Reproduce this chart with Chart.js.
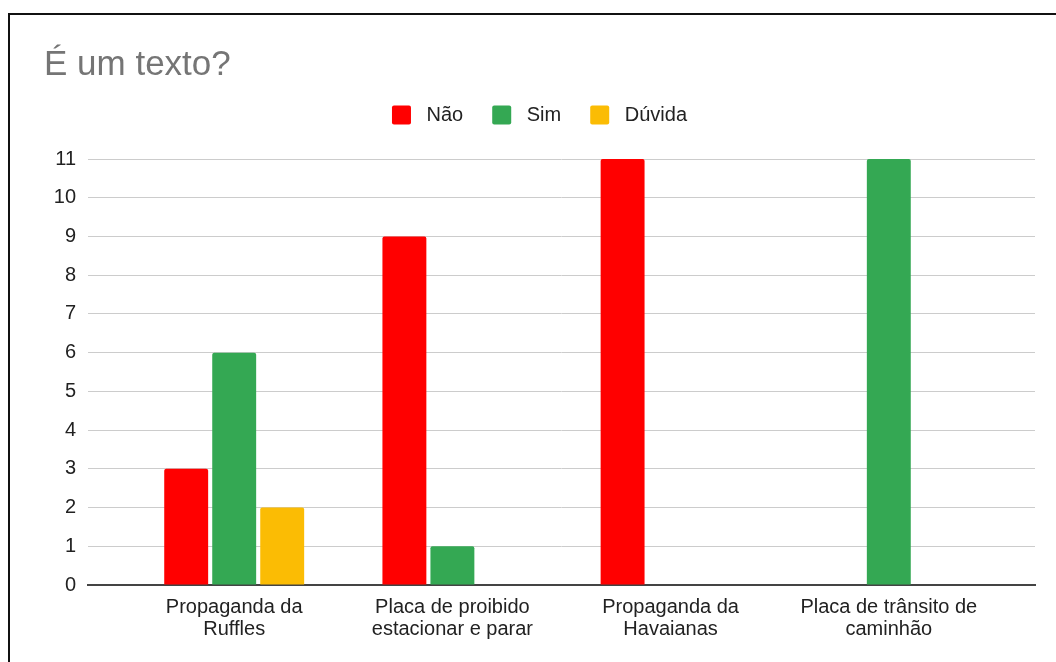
<!DOCTYPE html>
<html>
<head>
<meta charset="utf-8">
<script src="https://cdn.jsdelivr.net/npm/chart.js@4"></script>
<style>
  html, body { margin: 0; padding: 0; background: #fff; overflow: hidden; }
  body { width: 1056px; height: 662px; position: relative; }
  #frame {
    position: absolute; left: 8px; top: 13px;
    width: 1100px; height: 700px;
    border: 2px solid #111;
    box-sizing: border-box;
  }
  #chart { position: absolute; left: 10px; top: 15px; }
</style>
</head>
<body>
<div id="frame"></div>
<canvas id="chart" width="1046" height="647"></canvas>
<script>
var categories = [
  ['Propaganda da', 'Ruffles'],
  ['Placa de proibido', 'estacionar e parar'],
  ['Propaganda da', 'Havaianas'],
  ['Placa de trânsito de', 'caminhão']
];
var naoValues = [3, 9, 11, 0];
var simValues = [6, 1, 0, 11];
var duvidaValues = [2, 0, 0, 0];
var yTicks = [0, 1, 2, 3, 4, 5, 6, 7, 8, 9, 10, 11];

var fontFamily = '"Liberation Sans", Arial, sans-serif';

function points(values) {
  return values.map(function(v, i) { return { x: i, y: v }; });
}

function series(label, values, color) {
  return {
    label: label,
    data: points(values),
    backgroundColor: color,
    borderRadius: 2,
    categoryPercentage: 0.66,
    barPercentage: 0.915
  };
}

document.addEventListener('DOMContentLoaded', function() {
  var ctx = document.getElementById('chart').getContext('2d');
  new Chart(ctx, {
    type: 'bar',
    data: {
      datasets: [
        series('Não', naoValues, '#ff0000'),
        series('Sim', simValues, '#34a853'),
        series('Dúvida', duvidaValues, '#fbbc04')
      ]
    },
    options: {
      responsive: false,
      animation: false,
      layout: { padding: { left: 34, right: 21, top: 0, bottom: 19 } },
      plugins: {
        title: {
          display: true,
          text: 'É um texto?',
          align: 'start',
          color: '#757575',
          font: { family: fontFamily, size: 35, weight: 'normal', lineHeight: 1.2 },
          padding: { top: 29, bottom: -10 }
        },
        legend: {
          position: 'top',
          align: 'center',
          labels: {
            boxWidth: 19,
            boxHeight: 19,
            padding: 29,
            useBorderRadius: true,
            borderRadius: 2,
            color: '#222',
            font: { family: fontFamily, size: 20 },
            generateLabels: function(chart) {
              return Chart.defaults.plugins.legend.labels.generateLabels(chart).map(function(item) {
                item.text = ' ' + item.text;
                return item;
              });
            }
          }
        },
        tooltip: { enabled: false }
      },
      scales: {
        x: {
          type: 'linear',
          offset: false,
          min: -0.67,
          max: 3.67,
          afterBuildTicks: function(scale) {
            scale.ticks = categories.map(function(c, i) { return { value: i }; });
          },
          ticks: {
            autoSkip: false,
            maxRotation: 0,
            padding: 3,
            color: '#222',
            font: { family: fontFamily, size: 20, lineHeight: 1.1 },
            callback: function(value) { return categories[value] || ''; }
          },
          grid: { display: false, offset: false },
          border: { display: true, color: '#444', width: 2 }
        },
        y: {
          min: 0,
          max: 11.62,
          afterBuildTicks: function(scale) {
            scale.ticks = yTicks.map(function(v) { return { value: v }; });
          },
          afterFit: function(scale) { scale.width = 44; },
          ticks: {
            padding: 12,
            color: '#222',
            font: { family: fontFamily, size: 20 }
          },
          grid: {
            drawTicks: false,
            color: function(c) { return c.tick && c.tick.value === 0 ? 'rgba(0,0,0,0)' : '#cccccc'; },
            lineWidth: 1
          },
          border: { display: false }
        }
      }
    }
  });
});
</script>
</body>
</html>
